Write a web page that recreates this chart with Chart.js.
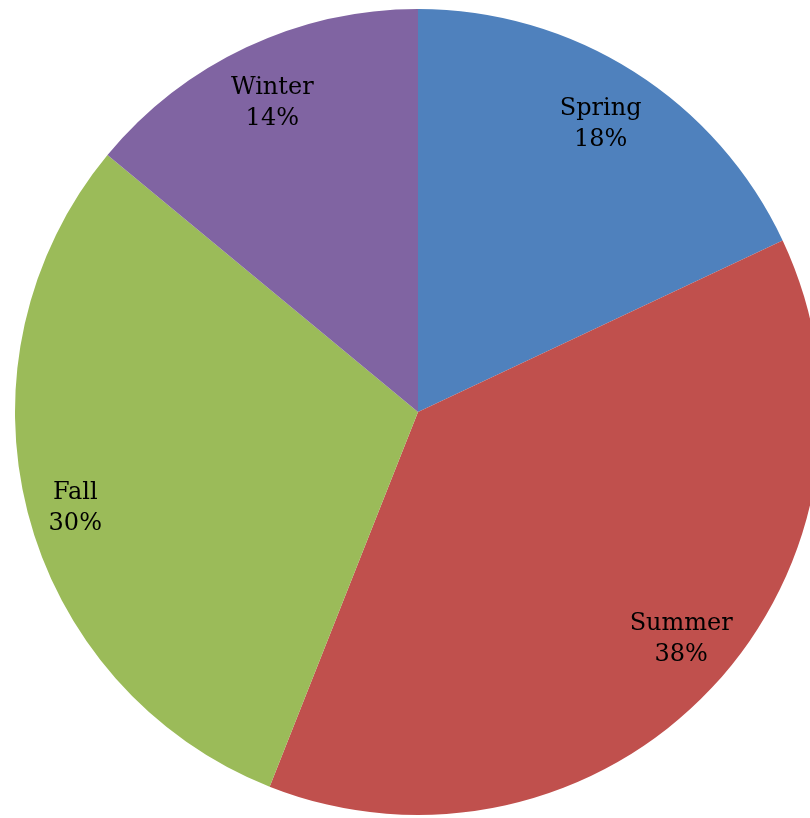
<!DOCTYPE html>
<html>
<head>
<meta charset="utf-8">
<script src="https://cdn.jsdelivr.net/npm/chart.js@4/dist/chart.umd.min.js"></script>
<style>
  html, body { margin: 0; padding: 0; background: #fff; overflow: hidden; }
  #wrap { width: 810px; height: 818px; overflow: hidden; position: relative; }
  canvas { position: absolute; left: 0; top: 0; }
</style>
</head>
<body>
<div id="wrap">
  <canvas id="pie" width="836" height="824"></canvas>
</div>
<script>
const seasons = ["Spring", "Summer", "Fall", "Winter"];
const shares = [18, 38, 30, 14];
const colors = ["#4f81bd", "#c0504d", "#9bbb59", "#8064a2"];

// small hand nudges so labels sit where the "best fit" layout puts them
const labelNudge = [[-2, 0], [12, -12], [-9, 7], [1, 0]];

// two-line labels (name + percent) placed inside each slice
const sliceLabels = {
  id: "sliceLabels",
  afterDraw(chart) {
    const { ctx } = chart;
    const meta = chart.getDatasetMeta(0);
    ctx.save();
    ctx.textAlign = "center";
    ctx.textBaseline = "alphabetic";
    ctx.fillStyle = "#000";
    ctx.font = "24px 'DejaVu Serif'";
    meta.data.forEach((arc, i) => {
      const mid = (arc.startAngle + arc.endAngle) / 2;
      const r = arc.outerRadius * 0.855;
      const x = arc.x + Math.cos(mid) * r + labelNudge[i][0];
      const y = arc.y + Math.sin(mid) * r + labelNudge[i][1];
      ctx.fillText(seasons[i], x, y - 6);
      ctx.fillText(shares[i] + "%", x, y + 25);
    });
    ctx.restore();
  },
};

new Chart(document.getElementById("pie"), {
  type: "pie",
  data: {
    labels: seasons,
    datasets: [
      {
        data: shares,
        backgroundColor: colors,
        borderWidth: 0,
      },
    ],
  },
  options: {
    responsive: false,
    animation: false,
    layout: { padding: 9 },
    plugins: {
      legend: { display: false },
      tooltip: { enabled: false },
    },
  },
  plugins: [sliceLabels],
});
</script>
</body>
</html>
